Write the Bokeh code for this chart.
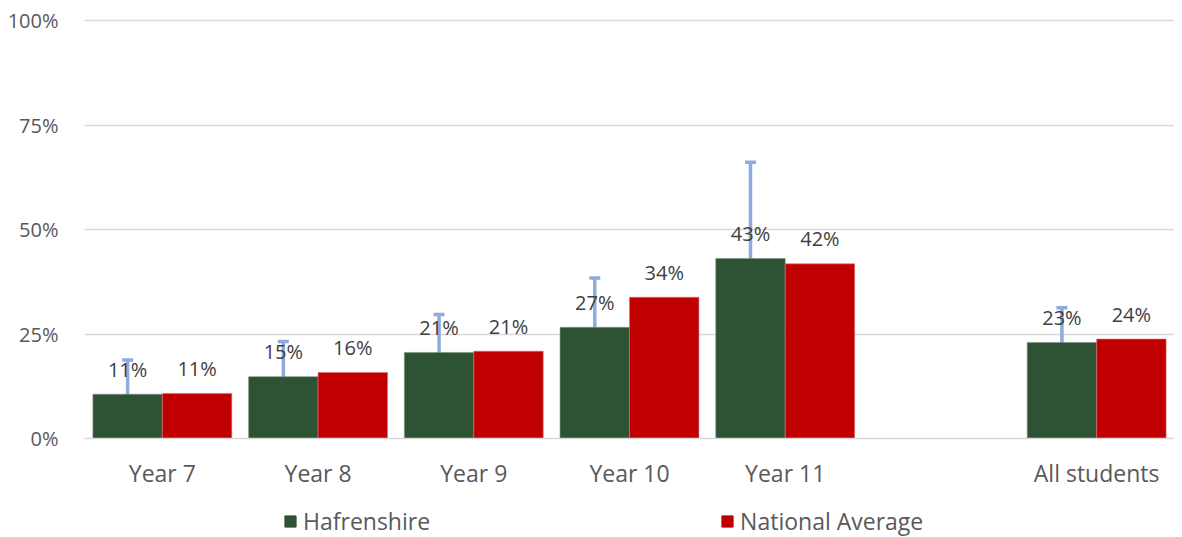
from bokeh.plotting import figure
from bokeh.layouts import column
from bokeh.models import (ColumnDataSource, FactorRange, Legend, LegendItem, NumeralTickFormatter,
                          FixedTicker, Whisker, TeeHead, Range1d)
from bokeh.transform import dodge
from bokeh.core.properties import value
from bokeh.embed import file_html
from bokeh.resources import INLINE

# ---- data ----
x_factors = ["Year 7", "Year 8", "Year 9", "Year 10", "Year 11", " ", "All students"]
categories = ["Year 7", "Year 8", "Year 9", "Year 10", "Year 11", "All students"]
hafrenshire = [0.106, 0.148, 0.206, 0.266, 0.431, 0.230]
national = [0.108, 0.158, 0.209, 0.338, 0.418, 0.238]
err_low = [0.002, 0.099, 0.097, 0.118, 0.271, 0.178]
err_high = [0.188, 0.232, 0.297, 0.384, 0.661, 0.313]
y_ticks = [0, 0.25, 0.5, 0.75, 1.0]
series_names = ["Hafrenshire", "National Average"]

GREEN = "#2E5334"
RED = "#C00000"
ERR = "#8FAADC"
FONT = "Open Sans"

src = ColumnDataSource(dict(
    cat=categories,
    haf=hafrenshire,
    nat=national,
    lo=err_low,
    hi=err_high,
    haf_lbl=[f"{round(v * 100):d}%" for v in hafrenshire],
    nat_lbl=[f"{round(v * 100):d}%" for v in national],
))

W = 1174
xr = FactorRange(*x_factors, range_padding=0)
p = figure(x_range=xr, y_range=(0, 1.01),
           width=W, height=495, output_backend="svg", toolbar_location=None,
           min_border_left=84, min_border_right=0, min_border_top=16, min_border_bottom=57)
p.outline_line_color = None

bw = 0.446
p.vbar(x=dodge("cat", -bw / 2, range=xr), top="haf", width=bw, source=src,
       fill_color=GREEN, line_color="#7f9484", line_width=0.6)
p.vbar(x=dodge("cat", bw / 2, range=xr), top="nat", width=bw, source=src,
       fill_color=RED, line_color="#e07070", line_width=0.6)

# error bars
wh = Whisker(base=dodge("cat", -bw / 2, range=xr), lower="lo", upper="hi", source=src,
             dimension="height", line_color=ERR, line_width=3.5,
             upper_head=TeeHead(size=11, line_color=ERR, line_width=3.5),
             lower_head=TeeHead(size=11, line_color=ERR, line_width=3.5))
p.add_layout(wh)

# data labels
p.text(x=dodge("cat", -bw / 2, range=xr), y="haf", text="haf_lbl", source=src,
       text_align="center", text_baseline="middle", y_offset=-25,
       text_font=value(FONT), text_font_size="20px", text_color="#404040")
p.text(x=dodge("cat", bw / 2, range=xr), y="nat", text="nat_lbl", source=src,
       text_align="center", text_baseline="middle", y_offset=-25,
       text_font=value(FONT), text_font_size="20px", text_color="#404040")

# axes
p.yaxis.ticker = FixedTicker(ticks=y_ticks)
p.yaxis.formatter = NumeralTickFormatter(format="0%")
p.yaxis.axis_line_color = None
p.yaxis.major_tick_line_color = None
p.yaxis.minor_tick_line_color = None
p.yaxis.major_label_text_font = FONT
p.yaxis.major_label_text_font_size = "20px"
p.yaxis.major_label_text_color = "#595959"
p.yaxis.major_label_standoff = 20

p.xaxis.axis_line_color = "#D9D9D9"
p.xaxis.axis_line_width = 1.5
p.xaxis.major_tick_line_color = None
p.xaxis.minor_tick_line_color = None
p.xaxis.major_label_text_font = FONT
p.xaxis.major_label_text_font_size = "23px"
p.xaxis.major_label_text_color = "#595959"
p.xaxis.major_label_standoff = 12

p.xgrid.grid_line_color = None
p.ygrid.grid_line_color = "#D9D9D9"
p.ygrid.grid_line_width = 1.5

# legend strip (bars of the same data, drawn outside this strip's visible y range)
pl = figure(x_range=xr, y_range=Range1d(5, 6), width=W, height=42, output_backend="svg",
            toolbar_location=None, x_axis_type=None, y_axis_type=None,
            min_border_left=0, min_border_right=0, min_border_top=0, min_border_bottom=0)
pl.outline_line_color = None
pl.grid.visible = False
lr1 = pl.vbar(x=dodge("cat", -bw / 2, range=xr), top="haf", width=bw, source=src,
              fill_color=GREEN, line_color=GREEN)
lr2 = pl.vbar(x=dodge("cat", bw / 2, range=xr), top="nat", width=bw, source=src,
              fill_color=RED, line_color=RED)
legend = Legend(items=[LegendItem(label=series_names[0], renderers=[lr1]),
                       LegendItem(label=series_names[1], renderers=[lr2])],
                orientation="horizontal", location=(199, 0),
                glyph_width=14, glyph_height=14, label_standoff=6, spacing=290,
                label_text_font=FONT, label_text_font_size="23px", label_text_color="#595959",
                border_line_color=None, background_fill_alpha=0, padding=0, margin=0)
pl.add_layout(legend, "center")

layout = column(p, pl, spacing=0)
open("out.html", "w").write(file_html(layout, INLINE))
